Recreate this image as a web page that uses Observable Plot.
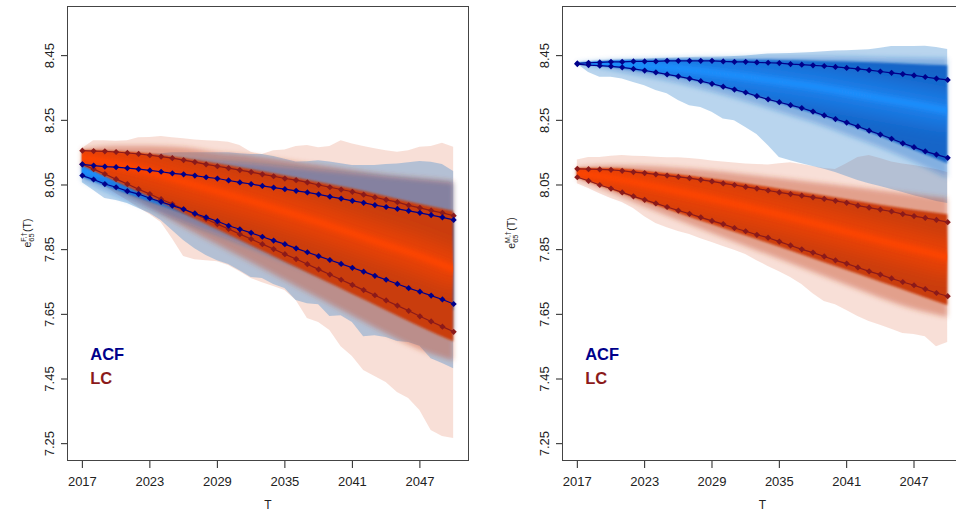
<!DOCTYPE html>
<html><head><meta charset="utf-8">
<script src="https://cdn.jsdelivr.net/npm/d3@7"></script>
<script src="https://cdn.jsdelivr.net/npm/@observablehq/plot@0.6"></script>
<style>
html,body{margin:0;padding:0;background:#fff;overflow:hidden;width:956px;height:518px;}
#wrap{position:relative;width:956px;height:518px;overflow:hidden;background:#fff;}
.panel{position:absolute;top:0;height:518px;}
.panel svg{max-width:none !important;}
</style></head><body><div id="wrap"></div>
<script>
// ---------- data ----------
const years = [2017,2018,2019,2020,2021,2022,2023,2024,2025,2026,2027,2028,2029,2030,2031,2032,2033,2034,2035,2036,2037,2038,2039,2040,2041,2042,2043,2044,2045,2046,2047,2048,2049,2050];
const fanYears = [2017,2020,2023,2026,2029,2032,2035,2038,2041,2044,2047,2050];
const xTicks = [2017,2023,2029,2035,2041,2047];
const yTicks = [7.25,7.45,7.65,7.85,8.05,8.25,8.45];
const legendLabels = ["ACF","LC"];

// Female panel lines
const lcF_upper = [8.156,8.155,8.154,8.152,8.149,8.146,8.142,8.138,8.133,8.127,8.121,8.114,8.108,8.102,8.096,8.090,8.083,8.077,8.070,8.065,8.058,8.050,8.043,8.036,8.029,8.020,8.012,8.004,7.997,7.987,7.979,7.971,7.964,7.955];
const lcF_lower = [8.114,8.099,8.084,8.068,8.053,8.037,8.022,8.006,7.991,7.975,7.960,7.945,7.929,7.914,7.898,7.883,7.867,7.852,7.836,7.821,7.805,7.789,7.773,7.757,7.741,7.725,7.709,7.693,7.677,7.661,7.644,7.628,7.612,7.596];
const acfF_upper = [8.114,8.110,8.107,8.105,8.102,8.099,8.095,8.091,8.086,8.083,8.079,8.074,8.070,8.064,8.058,8.053,8.047,8.042,8.037,8.032,8.027,8.021,8.014,8.008,8.001,7.995,7.988,7.982,7.976,7.970,7.964,7.957,7.950,7.942];
const acfF_lower = [8.079,8.067,8.053,8.043,8.031,8.022,8.009,7.998,7.986,7.975,7.962,7.950,7.938,7.924,7.913,7.902,7.890,7.878,7.867,7.854,7.842,7.830,7.818,7.806,7.794,7.782,7.769,7.757,7.744,7.731,7.720,7.708,7.696,7.682];
// Female fans: outer bands (yearly)
const lcF_outerHi = [8.163,8.187,8.187,8.185,8.187,8.196,8.197,8.200,8.196,8.193,8.189,8.187,8.185,8.182,8.172,8.151,8.144,8.156,8.158,8.169,8.172,8.165,8.169,8.187,8.177,8.169,8.162,8.156,8.151,8.156,8.167,8.169,8.179,8.167];
const lcF_outerLo = [8.101,8.070,8.045,8.023,8.002,7.980,7.959,7.934,7.884,7.829,7.819,7.816,7.813,7.801,7.782,7.761,7.748,7.736,7.724,7.693,7.637,7.625,7.600,7.550,7.520,7.476,7.458,7.439,7.408,7.390,7.353,7.291,7.272,7.266];
const acfF_outerHi = [8.116,8.125,8.132,8.135,8.138,8.141,8.144,8.147,8.150,8.150,8.150,8.150,8.150,8.150,8.147,8.144,8.144,8.138,8.130,8.121,8.122,8.125,8.121,8.116,8.110,8.110,8.110,8.113,8.115,8.119,8.123,8.120,8.113,8.092];
const acfF_outerLo = [8.057,8.033,8.008,8.002,7.993,7.977,7.962,7.940,7.909,7.878,7.853,7.832,7.816,7.804,7.785,7.764,7.761,7.742,7.730,7.693,7.683,7.680,7.643,7.646,7.625,7.581,7.584,7.578,7.566,7.563,7.551,7.513,7.498,7.482];
// Female fans: inner quantile bands (every 3 years)
const lcF_midHi  = [8.160,8.170,8.170,8.165,8.150,8.140,8.125,8.110,8.095,8.080,8.070,8.060];
const lcF_coreHi = [8.156,8.153,8.145,8.132,8.115,8.097,8.078,8.058,8.038,8.014,7.990,7.968];
const lcF_median = [8.135,8.115,8.090,8.060,8.030,8.000,7.968,7.935,7.900,7.865,7.830,7.790];
const lcF_coreLo = [8.110,8.060,8.012,7.962,7.912,7.862,7.812,7.762,7.712,7.662,7.612,7.565];
const lcF_midLo  = [8.105,8.040,7.980,7.920,7.865,7.810,7.755,7.700,7.645,7.590,7.540,7.505];
const acfF_midHi  = [8.116,8.125,8.130,8.128,8.122,8.115,8.105,8.095,8.085,8.075,8.065,8.055];
const acfF_coreHi = [8.113,8.108,8.100,8.088,8.075,8.060,8.045,8.030,8.013,7.995,7.978,7.960];
const acfF_median = [8.095,8.075,8.052,8.030,8.005,7.978,7.952,7.925,7.898,7.870,7.842,7.812];
const acfF_coreLo = [8.075,8.035,7.998,7.962,7.925,7.888,7.850,7.812,7.775,7.738,7.700,7.662];
const acfF_midLo  = [8.062,8.015,7.975,7.935,7.895,7.855,7.812,7.770,7.728,7.685,7.640,7.595];

// Male panel lines
const lcM_upper = [8.100,8.099,8.098,8.097,8.094,8.090,8.087,8.083,8.079,8.075,8.071,8.066,8.061,8.055,8.050,8.044,8.039,8.033,8.027,8.022,8.017,8.012,8.007,8.001,7.995,7.986,7.980,7.974,7.968,7.960,7.954,7.948,7.942,7.935];
const lcM_lower = [8.074,8.063,8.050,8.039,8.027,8.015,8.004,7.993,7.982,7.971,7.961,7.950,7.939,7.929,7.917,7.907,7.896,7.887,7.875,7.863,7.851,7.841,7.829,7.817,7.807,7.795,7.783,7.773,7.761,7.750,7.740,7.728,7.716,7.706];
const acfM_upper = [8.426,8.428,8.429,8.431,8.431,8.432,8.432,8.432,8.434,8.434,8.434,8.434,8.434,8.432,8.431,8.431,8.429,8.428,8.427,8.424,8.422,8.420,8.418,8.415,8.412,8.409,8.405,8.401,8.397,8.393,8.389,8.384,8.379,8.375];
const acfM_lower = [8.424,8.421,8.419,8.417,8.414,8.409,8.404,8.398,8.392,8.386,8.379,8.371,8.363,8.354,8.345,8.336,8.325,8.315,8.306,8.297,8.288,8.277,8.265,8.254,8.243,8.231,8.218,8.206,8.193,8.179,8.167,8.154,8.144,8.134];
const lcM_outerHi = [8.127,8.135,8.135,8.139,8.141,8.139,8.138,8.136,8.134,8.134,8.132,8.129,8.124,8.121,8.118,8.115,8.113,8.112,8.116,8.119,8.113,8.107,8.101,8.098,8.116,8.135,8.141,8.132,8.121,8.115,8.110,8.104,8.098,8.089];
const lcM_outerLo = [8.054,8.039,8.023,8.008,7.996,7.977,7.952,7.931,7.918,7.906,7.897,7.884,7.872,7.860,7.848,7.835,7.816,7.798,7.782,7.764,7.742,7.714,7.690,7.680,7.662,7.643,7.628,7.616,7.604,7.591,7.588,7.581,7.550,7.563];
const acfM_outerHi = [8.426,8.428,8.431,8.435,8.436,8.438,8.439,8.441,8.442,8.443,8.444,8.445,8.445,8.446,8.447,8.449,8.452,8.455,8.456,8.457,8.458,8.460,8.462,8.464,8.465,8.467,8.468,8.473,8.478,8.478,8.478,8.479,8.475,8.469];
const acfM_outerLo = [8.424,8.398,8.383,8.383,8.378,8.367,8.357,8.342,8.332,8.311,8.295,8.290,8.275,8.254,8.249,8.228,8.206,8.172,8.135,8.125,8.116,8.107,8.099,8.089,8.076,8.064,8.054,8.045,8.036,8.027,8.017,8.008,7.999,7.993];
const acfM_midHi  = [8.427,8.436,8.440,8.442,8.444,8.445,8.446,8.446,8.445,8.443,8.441,8.440];
const acfM_coreHi = [8.426,8.433,8.435,8.436,8.436,8.436,8.435,8.433,8.430,8.427,8.423,8.419];
const acfM_median = [8.425,8.425,8.418,8.410,8.398,8.385,8.370,8.355,8.337,8.318,8.300,8.280];
const acfM_coreLo = [8.424,8.414,8.400,8.383,8.360,8.333,8.303,8.272,8.238,8.200,8.158,8.116];
const acfM_midLo  = [8.423,8.405,8.385,8.365,8.338,8.308,8.276,8.243,8.205,8.165,8.120,8.070];
const lcM_midHi  = [8.103,8.110,8.108,8.102,8.093,8.082,8.070,8.058,8.045,8.032,8.020,8.008];
const lcM_coreHi = [8.100,8.100,8.092,8.081,8.068,8.053,8.037,8.021,8.004,7.987,7.972,7.958];
const lcM_median = [8.087,8.072,8.052,8.030,8.007,7.983,7.958,7.932,7.905,7.878,7.852,7.826];
const lcM_coreLo = [8.073,8.036,7.999,7.963,7.928,7.893,7.858,7.822,7.786,7.750,7.714,7.677];
const lcM_midLo  = [8.068,8.025,7.982,7.940,7.900,7.860,7.820,7.780,7.740,7.700,7.665,7.640];

// ---------- styling ----------
const FONT = "'Liberation Sans', Arial, Helvetica, sans-serif";
const RED = {outer:"rgb(230,140,110)", outerOp:0.28, mid:"rgb(195,75,40)", midOp:0.42, core:"#C93C0C", glow:"#FF4500", line:"#8B1A1A"};
const BLUE = {outer:"rgb(55,135,206)", outerOp:0.35, mid:"rgb(35,105,200)", midOp:0.34, core:"#1565C8", glow:"#1E90FF", line:"#00008B"};
const X_DOMAIN = [2015.68, 2051.32];
const Y_DOMAIN = [7.198, 8.602];

const band = (xs, lo, hi) => xs.map((x, i) => ({x, lo: lo[i], hi: hi[i]}));
const pts = (xs, v) => xs.map((x, i) => ({x, y: v[i]}));

function fanCore(id, xs, lo, hi, med, C) {
  return [
    Plot.areaY(band(xs, lo, hi), {x:"x", y1:"lo", y2:"hi", fill:C.core, curve:"monotone-x", ariaDescription:`core-${id}`}),
    Plot.line(pts(xs, med), {x:"x", y:"y", stroke:C.glow, strokeWidth:34, strokeOpacity:0.6, curve:"monotone-x", ariaDescription:`glowA-${id}`}),
    Plot.line(pts(xs, med), {x:"x", y:"y", stroke:C.glow, strokeWidth:7, strokeOpacity:0.95, curve:"monotone-x", ariaDescription:`glowB-${id}`})
  ];
}
function seriesLine(v, color) {
  return [
    Plot.line(pts(years, v), {x:"x", y:"y", stroke:color, strokeWidth:1.2}),
    Plot.dot(pts(years, v), {x:"x", y:"y", symbol:"diamond2", r:2.8, fill:color})
  ];
}

function makePanel(p) {
  const marks = [
    Plot.areaY(band(years, p.red.outerLo, p.red.outerHi), {x:"x", y1:"lo", y2:"hi", fill:RED.outer, fillOpacity:RED.outerOp}),
    Plot.areaY(band(years, p.blue.outerLo, p.blue.outerHi), {x:"x", y1:"lo", y2:"hi", fill:BLUE.outer, fillOpacity:BLUE.outerOp}),
    Plot.areaY(band(fanYears, p.red.midLo, p.red.midHi), {x:"x", y1:"lo", y2:"hi", fill:RED.mid, fillOpacity:RED.midOp, curve:"monotone-x", ariaDescription:`mid-${p.id}r`}),
    Plot.areaY(band(fanYears, p.blue.midLo, p.blue.midHi), {x:"x", y1:"lo", y2:"hi", fill:BLUE.mid, fillOpacity:BLUE.midOp, curve:"monotone-x", ariaDescription:`mid-${p.id}b`}),
    ...fanCore(p.id + "b", fanYears, p.blue.coreLo, p.blue.coreHi, p.blue.median, BLUE),
    ...fanCore(p.id + "r", fanYears, p.red.coreLo, p.red.coreHi, p.red.median, RED),
    ...seriesLine(p.red.upper, RED.line),
    ...seriesLine(p.red.lower, RED.line),
    ...seriesLine(p.blue.upper, BLUE.line),
    ...seriesLine(p.blue.lower, BLUE.line),
    Plot.axisX(xTicks, {tickSize:8, tickPadding:8, fontSize:13, tickFormat:d => String(d), label:null, color:"#222"}),
    Plot.axisY(yTicks, {tickSize:6, tickPadding:8, tickRotate:-90, fontSize:13, tickFormat:d => d.toFixed(2), label:null, color:"#222"}),
    Plot.frame({stroke:"#444"}),
    Plot.text([legendLabels[0]], {x:() => 2017.7, y:() => 7.524, text:d => d, textAnchor:"start", fill:BLUE.line, fontWeight:"bold", fontSize:16.5}),
    Plot.text([legendLabels[1]], {x:() => 2017.7, y:() => 7.452, text:d => d, textAnchor:"start", fill:RED.line, fontWeight:"bold", fontSize:16.5}),
    Plot.text(["T"], {frameAnchor:"bottom", dy:48, text:d => d, fontSize:12, fill:"#222"})
  ];
  const svg = Plot.plot({
    width:p.width, height:518,
    marginLeft:p.marginLeft, marginRight:10, marginTop:6, marginBottom:58,
    x:{domain:X_DOMAIN},
    y:{domain:Y_DOMAIN},
    style:{fontFamily:FONT, fontSize:"13px", background:"transparent", overflow:"visible", maxWidth:"none"},
    marks
  });
  svg.style.maxWidth = "none";
  svg.style.width = p.width + "px";
  svg.style.height = "518px";
  [p.id + "b", p.id + "r"].forEach(id => applyGlow(svg, id));
  [p.id + "b", p.id + "r"].forEach(id => soften(svg, `mid-${id}`, 2.5));
  [p.id + "b", p.id + "r"].forEach(id => soften(svg, `core-${id}`, 1.2));
  addYTitle(svg, p.titleX, p.sup);
  return svg;
}

const NS = "http://www.w3.org/2000/svg";
function getDefs(svg) {
  let defs = svg.querySelector("defs.glowdefs");
  if (!defs) { defs = document.createElementNS(NS, "defs"); defs.setAttribute("class", "glowdefs"); svg.insertBefore(defs, svg.firstChild); }
  return defs;
}
function blurFilter(svg, fid, sd) {
  const f = document.createElementNS(NS, "filter");
  f.setAttribute("id", fid);
  f.setAttribute("filterUnits", "userSpaceOnUse");
  f.setAttribute("x", -100); f.setAttribute("y", -100); f.setAttribute("width", 800); f.setAttribute("height", 800);
  const gb = document.createElementNS(NS, "feGaussianBlur");
  gb.setAttribute("stdDeviation", sd);
  f.appendChild(gb); getDefs(svg).appendChild(f);
}
function soften(svg, desc, sd) {
  const g = svg.querySelector(`g[aria-description="${desc}"]`);
  if (!g) return;
  blurFilter(svg, `blur-${desc}`, sd);
  g.setAttribute("filter", `url(#blur-${desc})`);
}
function applyGlow(svg, id) {
  const coreG = svg.querySelector(`g[aria-description="core-${id}"]`);
  const corePath = coreG && coreG.querySelector("path");
  if (!corePath) return;
  const cp = document.createElementNS(NS, "clipPath");
  cp.setAttribute("id", `clip-${id}`);
  cp.setAttribute("clipPathUnits", "userSpaceOnUse");
  const pth = document.createElementNS(NS, "path");
  pth.setAttribute("d", corePath.getAttribute("d"));
  const t = coreG.getAttribute("transform"); if (t) pth.setAttribute("transform", t);
  cp.appendChild(pth); getDefs(svg).appendChild(cp);
  [["A", 9], ["B", 2.5]].forEach(([k, sd]) => {
    blurFilter(svg, `blur${k}-${id}`, sd);
    const g = svg.querySelector(`g[aria-description="glow${k}-${id}"]`);
    if (!g) return;
    const wrap = document.createElementNS(NS, "g");
    wrap.setAttribute("clip-path", `url(#clip-${id})`);
    g.parentNode.insertBefore(wrap, g);
    wrap.appendChild(g);
    g.setAttribute("filter", `url(#blur${k}-${id})`);
  });
}
function addYTitle(svg, x, sup) {
  const t = document.createElementNS(NS, "text");
  t.setAttribute("transform", `translate(${x},233) rotate(-90)`);
  t.setAttribute("text-anchor", "middle");
  t.setAttribute("font-family", FONT);
  t.setAttribute("font-size", "10.5");
  t.setAttribute("fill", "#222");
  const mk = (txt, attrs) => { const s = document.createElementNS(NS, "tspan"); s.textContent = txt; for (const k in attrs) s.setAttribute(k, attrs[k]); return s; };
  t.appendChild(mk("e", {}));
  t.appendChild(mk("65", {"font-size":"7.5", dy:"2.5"}));
  t.appendChild(mk(sup, {"font-size":"7", dx:"-8.5", dy:"-7.5"}));
  t.appendChild(mk("(T)", {"font-size":"10.5", dy:"5", dx:"0.5"}));
  svg.appendChild(t);
}

const wrapEl = document.getElementById("wrap");
const left = makePanel({
  id:"F", width:478, marginLeft:67, titleX:31, sup:"F,\u2020",
  red:{outerLo:lcF_outerLo, outerHi:lcF_outerHi, midLo:lcF_midLo, midHi:lcF_midHi, coreLo:lcF_coreLo, coreHi:lcF_coreHi, median:lcF_median, upper:lcF_upper, lower:lcF_lower},
  blue:{outerLo:acfF_outerLo, outerHi:acfF_outerHi, midLo:acfF_midLo, midHi:acfF_midHi, coreLo:acfF_coreLo, coreHi:acfF_coreHi, median:acfF_median, upper:acfF_upper, lower:acfF_lower}
});
const right = makePanel({
  id:"M", width:494, marginLeft:84, titleX:37, sup:"M,\u2020",
  red:{outerLo:lcM_outerLo, outerHi:lcM_outerHi, midLo:lcM_midLo, midHi:lcM_midHi, coreLo:lcM_coreLo, coreHi:lcM_coreHi, median:lcM_median, upper:lcM_upper, lower:lcM_lower},
  blue:{outerLo:acfM_outerLo, outerHi:acfM_outerHi, midLo:acfM_midLo, midHi:acfM_midHi, coreLo:acfM_coreLo, coreHi:acfM_coreHi, median:acfM_median, upper:acfM_upper, lower:acfM_lower}
});
const d1 = document.createElement("div"); d1.className = "panel"; d1.style.left = "0px"; d1.style.width = "478px"; d1.appendChild(left);
const d2 = document.createElement("div"); d2.className = "panel"; d2.style.left = "478px"; d2.style.width = "494px"; d2.appendChild(right);
wrapEl.appendChild(d1); wrapEl.appendChild(d2);
</script>
</body></html>
